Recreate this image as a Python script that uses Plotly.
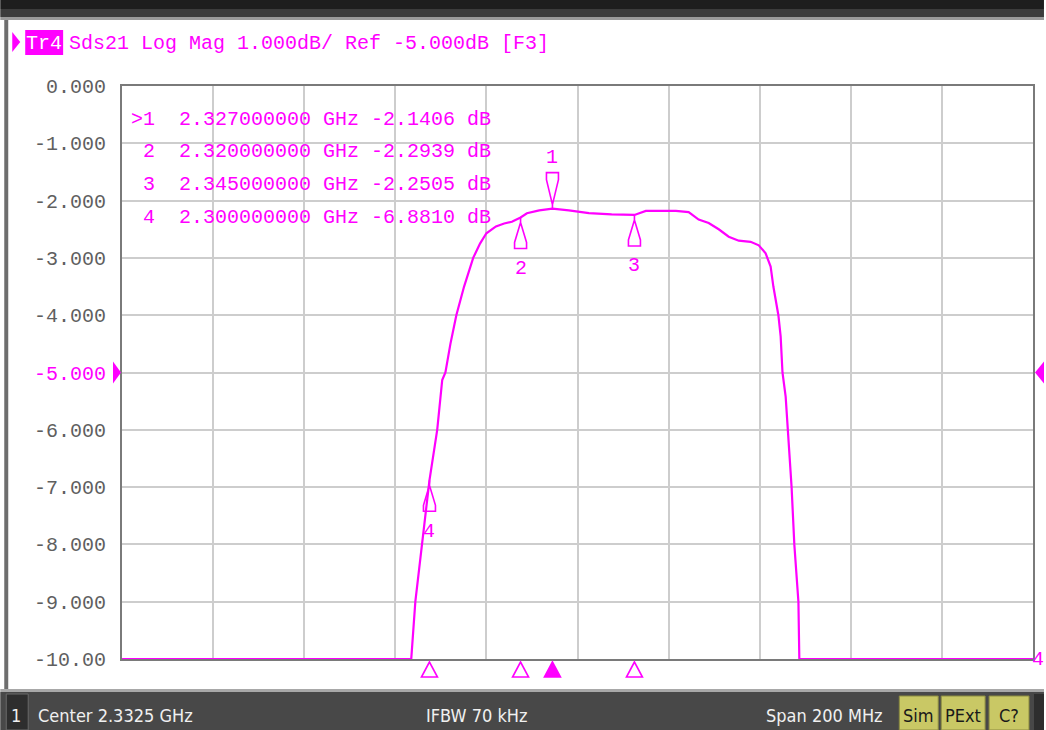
import plotly.graph_objects as go

# ---------------- data ----------------
freq_mhz = [2232.5, 2296.0, 2296.9, 2298.4, 2300.0, 2301.7, 2302.8, 2303.5, 2304.6, 2305.9,
            2307.6, 2309.6, 2311.1, 2312.5, 2314.6, 2316.4, 2318.1, 2320.0, 2321.4, 2324.1,
            2327.0, 2330.6, 2333.3, 2335.0, 2340.0, 2345.0, 2347.5, 2354.1, 2356.9, 2359.1,
            2361.3, 2363.5, 2365.7, 2367.9, 2370.5, 2372.3, 2373.8, 2374.9, 2375.5, 2376.2,
            2376.6, 2377.1, 2377.5, 2378.2, 2378.7, 2379.3, 2379.5, 2380.1, 2380.8, 2381.0,
            2381.2, 2432.5]
s21_db = [-10.0, -10.0, -9.0, -8.0, -6.881, -6.0, -5.13, -5.0, -4.5, -4.0,
          -3.5, -3.0, -2.75, -2.57, -2.45, -2.40, -2.37, -2.294, -2.22, -2.17,
          -2.1406, -2.17, -2.20, -2.22, -2.24, -2.2505, -2.18, -2.18, -2.20, -2.33,
          -2.39, -2.50, -2.63, -2.70, -2.72, -2.78, -2.92, -3.15, -3.5, -3.85,
          -4.0, -4.37, -5.0, -5.42, -6.0, -6.64, -7.0, -8.0, -8.74, -9.0,
          -10.0, -10.0]

marker_ids = [1, 2, 3, 4]
marker_freq_ghz = [2.327, 2.320, 2.345, 2.300]
marker_db = [-2.1406, -2.2939, -2.2505, -6.8810]
active_marker = 1

y_tick_vals = [0, -1, -2, -3, -4, -5, -6, -7, -8, -9, -10]
y_tick_labels = ["0.000", "-1.000", "-2.000", "-3.000", "-4.000", "-5.000",
                 "-6.000", "-7.000", "-8.000", "-9.000", "-10.00"]

center_ghz = 2.3325
span_mhz = 200
ifbw_khz = 70
ref_db = -5.0
scale_db = 1.0
trace_name = "Tr4"
param = "Sds21"
status_flags = ["Sim", "PExt", "C?"]

# ---------------- style / geometry ----------------
W, H = 1046, 730
L, R, T, B = 122, 11, 86, 71
PW, PH = W - L - R, H - T - B
MAG = "#ff00ff"
MONO = "Liberation Mono, DejaVu Sans Mono, monospace"
NARROW = "Liberation Sans Narrow, DejaVu Sans Condensed, sans-serif"


def px_x(x):
    return (x - L) / PW


def px_y(y):
    return (H - B - y) / PH


freq_ghz = [f / 1000 for f in freq_mhz]
x0 = center_ghz - span_mhz / 2000
x1 = center_ghz + span_mhz / 2000

fig = go.Figure()
fig.add_trace(go.Scatter(x=freq_ghz, y=s21_db, mode="lines",
                         line=dict(color=MAG, width=2.2), hoverinfo="skip",
                         showlegend=False))

shapes = []
annotations = []

# window chrome
shapes.append(dict(type="rect", xref="paper", yref="paper", x0=px_x(0), x1=px_x(W),
                   y0=px_y(9), y1=px_y(0), fillcolor="#1e1e1e", line_width=0, layer="below"))
shapes.append(dict(type="rect", xref="paper", yref="paper", x0=px_x(0), x1=px_x(W),
                   y0=px_y(17), y1=px_y(9), fillcolor="#3c3c3c", line_width=0, layer="below"))
shapes.append(dict(type="rect", xref="paper", yref="paper", x0=px_x(0), x1=px_x(W),
                   y0=px_y(20), y1=px_y(17), fillcolor="#9a9a9a", line_width=0, layer="below"))
shapes.append(dict(type="rect", xref="paper", yref="paper", x0=px_x(4), x1=px_x(8),
                   y0=px_y(690), y1=px_y(20), fillcolor="#6e6e6e", line_width=0, layer="below"))
# status bar
shapes.append(dict(type="rect", xref="paper", yref="paper", x0=px_x(0), x1=px_x(W),
                   y0=px_y(692), y1=px_y(689), fillcolor="#a8a8a8", line_width=0, layer="below"))
shapes.append(dict(type="rect", xref="paper", yref="paper", x0=px_x(0), x1=px_x(W),
                   y0=px_y(H), y1=px_y(692), fillcolor="#484848", line_width=0, layer="below"))
shapes.append(dict(type="rect", xref="paper", yref="paper", x0=px_x(6), x1=px_x(28),
                   y0=px_y(H), y1=px_y(694), fillcolor="#2e2e2e",
                   line=dict(color="#6a6a6a", width=1), layer="below"))
flag_boxes = [(901, 940), (943, 987), (991, 1031)]
for (a, b), flag in zip(flag_boxes, status_flags):
    shapes.append(dict(type="rect", xref="paper", yref="paper", x0=px_x(a), x1=px_x(b),
                       y0=px_y(H), y1=px_y(696), fillcolor="#c9c865",
                       line=dict(color="#8c8b40", width=1), layer="below"))
    annotations.append(dict(xref="paper", yref="paper", x=px_x((a + b) / 2), y=px_y(715),
                            text=flag, showarrow=False, xanchor="center", yanchor="middle",
                            font=dict(family=NARROW, size=18, color="#1a1a1a")))
shapes.append(dict(type="rect", xref="paper", yref="paper", x0=px_x(1036), x1=px_x(W),
                   y0=px_y(H), y1=px_y(694), fillcolor="#2e2e2e", line_width=0, layer="below"))

status_texts = [(16, "center", "1"),
                (36, "left", f"Center {center_ghz:.4f} GHz"),
                (425, "left", f"IFBW {ifbw_khz} kHz"),
                (765, "left", f"Span {span_mhz} MHz")]
for xx, anc, txt in status_texts:
    annotations.append(dict(xref="paper", yref="paper", x=px_x(xx), y=px_y(715), text=txt,
                            showarrow=False, xanchor=anc, yanchor="middle",
                            font=dict(family=NARROW, size=18, color="#f0f0f0")))

# title line
shapes.append(dict(type="path", xref="paper", yref="paper",
                   path=f"M {px_x(12)},{px_y(32)} L {px_x(20)},{px_y(42)} L {px_x(12)},{px_y(52)} Z",
                   fillcolor=MAG, line_width=0))
shapes.append(dict(type="rect", xref="paper", yref="paper", x0=px_x(25), x1=px_x(63),
                   y0=px_y(55), y1=px_y(30), fillcolor=MAG, line_width=0))
annotations.append(dict(xref="paper", yref="paper", x=px_x(44), y=px_y(43), text=trace_name,
                        showarrow=False, xanchor="center", yanchor="middle",
                        font=dict(family=MONO, size=20, color="white")))
annotations.append(dict(xref="paper", yref="paper", x=px_x(67), y=px_y(43),
                        text=f"{param} Log Mag {scale_db:.3f}dB/ Ref {ref_db:.3f}dB [F3]",
                        showarrow=False, xanchor="left", yanchor="middle",
                        font=dict(family=MONO, size=20, color=MAG)))

# reference level pointers
shapes.append(dict(type="path", xref="paper", xsizemode="pixel", xanchor=0,
                   yref="y", ysizemode="pixel", yanchor=ref_db,
                   path="M -9,11 L -1,0 L -9,-11 Z", fillcolor=MAG, line_width=0))
shapes.append(dict(type="path", xref="paper", xsizemode="pixel", xanchor=1,
                   yref="y", ysizemode="pixel", yanchor=ref_db,
                   path="M 11,11 L 2,0 L 11,-11 Z", fillcolor=MAG, line_width=0))
annotations.append(dict(xref="paper", yref="y", x=1, y=-10, xshift=5, text=trace_name[-1],
                        showarrow=False, xanchor="center", yanchor="middle",
                        font=dict(family=MONO, size=20, color=MAG)))

# marker table
for i, (mid, mf, md) in enumerate(zip(marker_ids, marker_freq_ghz, marker_db)):
    lead = ">" if mid == active_marker else "\u00a0"
    txt = f"{lead}{mid}\u00a0\u00a0{mf:.9f}\u00a0GHz\u00a0{md:.4f}\u00a0dB"
    annotations.append(dict(xref="paper", yref="paper", x=px_x(129), y=px_y(119 + 32.8 * i),
                            text=txt, showarrow=False, xanchor="left", yanchor="middle",
                            font=dict(family=MONO, size=20, color=MAG)))

# markers on trace and on the stimulus axis
for mid, mf, md in zip(marker_ids, marker_freq_ghz, marker_db):
    if mid == active_marker:
        path = "M 0,0 L 0,4 M 0,4 L -6,29 L -6,36 L 6,36 L 6,29 Z"
        yshift = 51
    else:
        path = "M 0,0 L 0,-5 M 0,-5 L -6,-25 L -6,-31 L 6,-31 L 6,-25 Z"
        yshift = -51
    shapes.append(dict(type="path", xref="x", xsizemode="pixel", xanchor=mf,
                       yref="y", ysizemode="pixel", yanchor=md, path=path,
                       fillcolor="rgba(255,255,255,0)", line=dict(color=MAG, width=1.6)))
    annotations.append(dict(xref="x", yref="y", x=mf, y=md, yshift=yshift, text=str(mid),
                            showarrow=False, xanchor="center", yanchor="middle",
                            font=dict(family=MONO, size=20, color=MAG)))
    shapes.append(dict(type="path", xref="x", xsizemode="pixel", xanchor=mf,
                       yref="paper", ysizemode="pixel", yanchor=0,
                       path="M 0,-3 L -8,-18 L 8,-18 Z",
                       fillcolor=MAG if mid == active_marker else "white",
                       line=dict(color=MAG, width=1.6)))

tick_text = [f"<span style='color:{MAG}'>{t}</span>" if v == ref_db else t
             for v, t in zip(y_tick_vals, y_tick_labels)]

fig.update_layout(
    width=W, height=H,
    margin=dict(l=L, r=R, t=T, b=B, pad=0),
    paper_bgcolor="white", plot_bgcolor="white",
    showlegend=False,
    shapes=shapes, annotations=annotations,
    xaxis=dict(range=[x0, x1], tick0=x0, dtick=0.02, showticklabels=False, ticks="",
               showgrid=True, gridcolor="#cdcdcd", gridwidth=2, zeroline=False,
               showline=True, mirror=True, linecolor="#7a7a7a", linewidth=2,
               layer="below traces", fixedrange=True),
    yaxis=dict(range=[-10, 0], tickvals=y_tick_vals, ticktext=tick_text,
               ticks="outside", ticklen=10, tickcolor="rgba(0,0,0,0)",
               tickfont=dict(family=MONO, size=20, color="#5f5f5f"),
               showgrid=True, gridcolor="#cdcdcd", gridwidth=2, zeroline=False,
               showline=True, mirror=True, linecolor="#7a7a7a", linewidth=2,
               layer="below traces", fixedrange=True),
)

fig.write_html("out.html", config={"displayModeBar": False},
               post_script="document.body.style.margin='0';document.body.style.overflow='hidden';")
